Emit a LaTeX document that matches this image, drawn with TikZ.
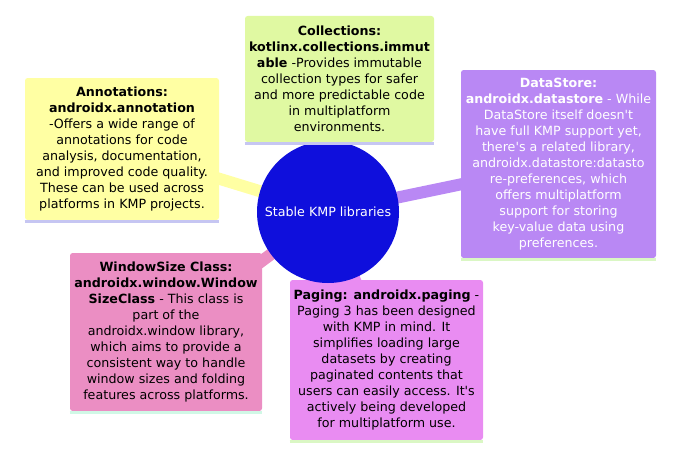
\documentclass[tikz,border=0pt]{standalone}
\usepackage{fontspec}
\setmainfont{DejaVu Sans}
\usetikzlibrary{backgrounds,shapes}
\pgfdeclarelayer{edgelayer}
\pgfdeclarelayer{nodelayer}
\pgfsetlayers{edgelayer,nodelayer,main}
\definecolor{rootblue}{HTML}{0F0FDC}
\definecolor{annyellow}{HTML}{FFFFA3}
\definecolor{colgreen}{HTML}{E0F9A2}
\definecolor{dspurple}{HTML}{B988F4}
\definecolor{wspink}{HTML}{EB8EC3}
\definecolor{pgviolet}{HTML}{E98CF2}
\definecolor{linelav}{HTML}{C6C6F2}
\definecolor{linegreen}{HTML}{DAF7C4}
\definecolor{linemint}{HTML}{D0F8E6}
\tikzset{font=\fontsize{9.5pt}{12pt}\selectfont}
\tikzstyle{leaf}=[rectangle,rounded corners=2pt,align=center,inner sep=0pt]
\tikzstyle{root}=[circle,fill=rootblue,text=white,inner sep=0pt,minimum size=106.5pt]
\tikzstyle{branch}=[line width=9pt]
\tikzstyle{under}=[line width=2pt]

\begin{document}
\begin{tikzpicture}[x=0.75pt,y=-0.75pt]
	\useasboundingbox (0,0) rectangle (680,460);
	\begin{pgfonlayer}{nodelayer}
		\node [style=leaf,fill=pgviolet,minimum width=144.75pt,minimum height=120pt] (5) at (386.5, 360)
			{\textbf{Paging: androidx.paging} -\\ Paging 3 has been designed\\ with KMP in mind. It\\ simplifies loading large\\ datasets by creating\\ paginated contents that\\ users can easily access. It\textquotesingle s\\ actively being developed\\ for multiplatform use.};
		\node [style=root] (0) at (328, 212) {Stable KMP libraries};
		\node [style=leaf,fill=annyellow,minimum width=145.5pt,minimum height=106.5pt] (1) at (122, 149)
			{\textbf{Annotations:}\\ \textbf{androidx.annotation}\\ -Offers a wide range of\\ annotations for code\\ analysis, documentation,\\ and improved code quality.\\ These can be used across\\ platforms in KMP projects.};
		\node [style=leaf,fill=colgreen,minimum width=141.75pt,minimum height=94.5pt] (2) at (339.5, 79)
			{\textbf{Collections:}\\ \textbf{kotlinx.collections.immut}\\ \textbf{able} -Provides immutable\\ collection types for safer\\ and more predictable code\\ in multiplatform\\ environments.};
		\node [style=leaf,fill=dspurple,text=white,minimum width=146.25pt,minimum height=141pt] (3) at (558.5, 164)
			{\textbf{DataStore:}\\ \textbf{androidx.datastore} - While\\ DataStore itself doesn\textquotesingle t\\ have full KMP support yet,\\ there\textquotesingle s a related library,\\ androidx.datastore:datasto\\ re-preferences, which\\ offers multiplatform\\ support for storing\\ key-value data using\\ preferences.};
		\node [style=leaf,fill=wspink,minimum width=144pt,minimum height=118.5pt] (4) at (166, 332)
			{\textbf{WindowSize Class:}\\ \textbf{androidx.window.Window}\\ \textbf{SizeClass} - This class is\\ part of the\\ androidx.window library,\\ which aims to provide a\\ consistent way to handle\\ window sizes and folding\\ features across platforms.};
	\end{pgfonlayer}
	\begin{pgfonlayer}{edgelayer}
		\draw [style=branch,annyellow] (0.center) to (1.center);
		\draw [style=branch,colgreen] (0.center) to (2.center);
		\draw [style=branch,dspurple] (0.center) to (3.center);
		\draw [style=branch,wspink] (0.center) to (4.center);
		\draw [style=branch,pgviolet] (0.center) to (5.center);
	\end{pgfonlayer}
	% coloured line under each box
	\draw [style=under,linelav] ([yshift=-1pt]1.south west) to ([yshift=-1pt]1.south east);
	\draw [style=under,linelav] ([yshift=-1pt]2.south west) to ([yshift=-1pt]2.south east);
	\draw [style=under,linegreen] ([yshift=-1pt]3.south west) to ([yshift=-1pt]3.south east);
	\draw [style=under,linemint] ([yshift=-1pt]4.south west) to ([yshift=-1pt]4.south east);
	\draw [style=under,linegreen] ([yshift=-1pt]5.south west) to ([yshift=-1pt]5.south east);
\end{tikzpicture}
\end{document}
